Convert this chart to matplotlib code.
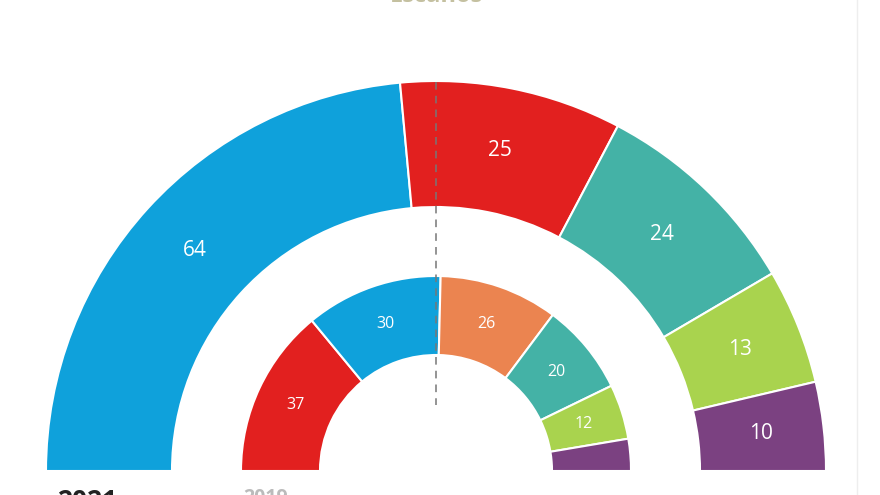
import numpy as np
import matplotlib.pyplot as plt
from matplotlib.patches import Wedge

# escaños 2021 (anillo exterior) y 2019 (anillo interior)
seats_2021 = [64, 25, 24, 13, 10]
colors_2021 = ["#0FA1DB", "#E2201F", "#44B2A6", "#A9D34E", "#7B4181"]
seats_2019 = [37, 30, 26, 20, 12, 7]
colors_2019 = ["#E2201F", "#0FA1DB", "#EB8450", "#44B2A6", "#A9D34E", "#7B4181"]

H = 495
CX, CY = 436, H - 471

fig = plt.figure(figsize=(8.8, 4.95), dpi=100)
ax = fig.add_axes([0, 0, 1, 1])
ax.set_xlim(0, 880)
ax.set_ylim(0, H)
ax.set_aspect("equal")
ax.axis("off")


def ring(values, colors, r_out, r_in, fs):
    total = sum(values)
    start = 180.0
    for v, c in zip(values, colors):
        span = v * 180.0 / total
        w = Wedge((CX, CY), r_out, start - span, start, width=r_out - r_in,
                  facecolor=c, edgecolor="white", linewidth=1.5)
        ax.add_patch(w)
        if v >= 10:  # los huecos pequeños no llevan cifra
            mid = np.radians(start - span / 2)
            rm = (r_out + r_in) / 2
            ax.text(CX + rm * np.cos(mid), CY + rm * np.sin(mid), str(v),
                    color="white", fontsize=fs, ha="center", va="center",
                    family="Open Sans")
        start -= span


ring(seats_2021, colors_2021, 390, 264, 15)
ring(seats_2019, colors_2019, 195, 116, 11.5)

# línea de mayoría
ax.plot([CX, CX], [H - 82, H - 405], color="#777777", lw=1.1,
        linestyle=(0, (5, 4)))

# borde derecho
ax.plot([857, 857], [0, H], color="#eeeeee", lw=1)

# textos recortados por el borde, como en el original
ax.text(436, H - 2, "Escaños", ha="center", va="baseline", fontsize=17,
        color="#c4c0a0", fontweight="bold", family="Open Sans")
ax.text(57, 7, "2021", ha="left", va="top", fontsize=19, color="#222222",
        fontweight="bold", family="Open Sans")
ax.text(243, 7, "2019", ha="left", va="top", fontsize=14, color="#bbbbbb",
        fontweight="bold", family="Open Sans")

plt.savefig("out.png", dpi=100)
